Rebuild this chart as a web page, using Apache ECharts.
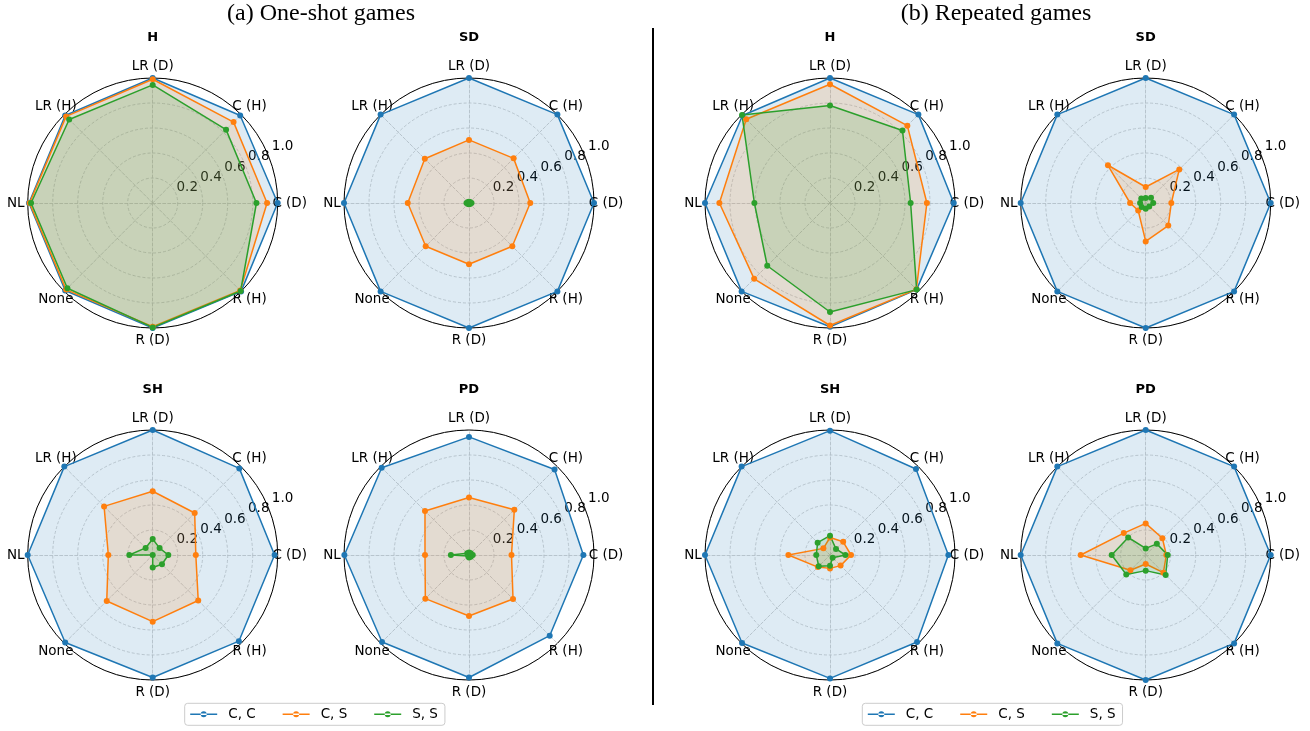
<!DOCTYPE html>
<html>
<head>
<meta charset="utf-8">
<script src="https://cdn.jsdelivr.net/npm/echarts@6/dist/echarts.min.js"></script>
<style>
html, body { margin: 0; padding: 0; background: #fff; }
#main { width: 1310px; height: 731px; }
</style>
</head>
<body>
<div id="main"></div>
<script>
// axis order as read clockwise from the top
var categories = ['LR (D)', 'C (H)', 'C (D)', 'R (H)', 'R (D)', 'None', 'NL', 'LR (H)'];
var groups = ['C, C', 'C, S', 'S, S'];
var colors = ['#1f77b4', '#ff7f0e', '#2ca02c'];

// (a) one-shot games
var oneH_cc = [1.0, 0.99, 1.0, 1.0, 1.0, 0.99, 0.99, 0.99];
var oneH_cs = [0.99, 0.915, 0.915, 0.99, 0.99, 0.98, 0.985, 0.98];
var oneH_ss = [0.945, 0.83, 0.83, 0.995, 0.995, 0.965, 0.973, 0.945];

var oneSD_cc = [1.0, 1.0, 1.0, 1.0, 1.0, 1.0, 1.0, 1.0];
var oneSD_cs = [0.505, 0.505, 0.49, 0.49, 0.49, 0.49, 0.49, 0.5];
var oneSD_ss = [0.01, 0.01, 0.02, 0.01, 0.01, 0.01, 0.02, 0.01];

var oneSH_cc = [1.0, 0.98, 0.975, 0.975, 0.98, 0.99, 1.0, 1.0];
var oneSH_cs = [0.51, 0.475, 0.345, 0.515, 0.533, 0.52, 0.355, 0.55];
var oneSH_ss = [0.128, 0.078, 0.125, 0.105, 0.1, 0.0, 0.187, 0.08];

var onePD_cc = [0.945, 0.968, 0.915, 0.913, 0.98, 0.984, 0.997, 0.988];
var onePD_cs = [0.46, 0.513, 0.34, 0.498, 0.488, 0.494, 0.352, 0.498];
var onePD_ss = [0.02, 0.02, 0.03, 0.02, 0.02, 0.01, 0.145, 0.02];

// (b) repeated games
var repH_cc = [1.0, 1.0, 0.99, 0.98, 0.99, 1.0, 1.0, 0.99];
var repH_cs = [0.95, 0.875, 0.775, 0.977, 0.98, 0.858, 0.885, 0.948];
var repH_ss = [0.78, 0.82, 0.645, 0.98, 0.872, 0.71, 0.605, 0.995];

var repSD_cc = [1.0, 1.0, 1.0, 1.0, 1.0, 1.0, 1.0, 1.0];
var repSD_cs = [0.128, 0.38, 0.205, 0.255, 0.307, 0.085, 0.125, 0.427];
var repSD_ss = [0.04, 0.06, 0.06, 0.04, 0.045, 0.045, 0.045, 0.05];

var repSH_cc = [0.995, 0.973, 0.947, 0.985, 0.987, 0.995, 1.0, 1.0];
var repSH_cs = [0.14, 0.149, 0.168, 0.12, 0.107, 0.137, 0.333, 0.075];
var repSH_ss = [0.155, 0.068, 0.123, 0.03, 0.086, 0.127, 0.11, 0.14];

var repPD_cc = [1.0, 1.0, 1.0, 1.0, 1.0, 1.0, 1.0, 1.0];
var repPD_cs = [0.253, 0.189, 0.165, 0.2, 0.072, 0.173, 0.52, 0.248];
var repPD_ss = [0.053, 0.126, 0.176, 0.226, 0.125, 0.22, 0.272, 0.198];

var panels = [
    { title: 'H',  cx: 152.7,  cy: 203, sets: [oneH_cc, oneH_cs, oneH_ss] },
    { title: 'SD', cx: 469,    cy: 203, sets: [oneSD_cc, oneSD_cs, oneSD_ss] },
    { title: 'H',  cx: 830,    cy: 203, sets: [repH_cc, repH_cs, repH_ss] },
    { title: 'SD', cx: 1145.7, cy: 203, sets: [repSD_cc, repSD_cs, repSD_ss] },
    { title: 'SH', cx: 152.7,  cy: 555, sets: [oneSH_cc, oneSH_cs, oneSH_ss] },
    { title: 'PD', cx: 469,    cy: 555, sets: [onePD_cc, onePD_cs, onePD_ss] },
    { title: 'SH', cx: 830,    cy: 555, sets: [repSH_cc, repSH_cs, repSH_ss] },
    { title: 'PD', cx: 1145.7, cy: 555, sets: [repPD_cc, repPD_cs, repPD_ss] }
];

var R = 125;
var FONT = 'DejaVu Sans';

// echarts lays radar indicators out counter-clockwise
function toEc(arr) {
    return [arr[0], arr[7], arr[6], arr[5], arr[4], arr[3], arr[2], arr[1]];
}

var indicator = toEc(categories).map(function (c) {
    return { name: c, min: 0, max: 1 };
});

var gridLine = { color: '#c6c6c6', type: [3, 2], width: 0.8 };

var titles = [
    { text: '(a) One-shot games', left: 321, top: 2, textAlign: 'center', padding: 0,
      textStyle: { fontFamily: 'Liberation Serif', fontSize: 24, fontWeight: 'normal', color: '#000' } },
    { text: '(b) Repeated games', left: 996, top: 2, textAlign: 'center', padding: 0,
      textStyle: { fontFamily: 'Liberation Serif', fontSize: 24, fontWeight: 'normal', color: '#000' } }
];
var radars = [];
var polars = [];
var angleAxes = [];
var radiusAxes = [];
var series = [];

panels.forEach(function (p, k) {
    titles.push({
        text: p.title, left: p.cx, top: p.cy - 171.5, textAlign: 'center', padding: 0,
        textStyle: { fontFamily: FONT, fontSize: 13, fontWeight: 'bold', color: '#000' }
    });
    // grid, spokes and names
    radars.push({
        center: [p.cx, p.cy], radius: R, startAngle: 90, shape: 'circle', splitNumber: 5,
        indicator: indicator, nameGap: 12,
        axisName: { color: '#000', fontSize: 13.5, fontFamily: FONT, align: 'center', verticalAlign: 'middle' },
        splitLine: { lineStyle: gridLine },
        splitArea: { show: false },
        axisLine: { lineStyle: gridLine }
    });
    // solid outer ring
    radars.push({
        center: [p.cx, p.cy], radius: R, startAngle: 90, shape: 'circle', splitNumber: 1,
        indicator: indicator,
        axisName: { show: false },
        splitLine: { lineStyle: { color: '#000', width: 1 } },
        splitArea: { show: false },
        axisLine: { show: false }
    });
    // radial tick labels along 22.5 deg
    polars.push({ center: [p.cx, p.cy], radius: [11.7, 141.6] });
    angleAxes.push({ polarIndex: k, type: 'value', min: 0, max: 360, startAngle: 23.5, show: false });
    radiusAxes.push({
        polarIndex: k, type: 'value', min: 0, max: 1, interval: 0.2,
        axisLine: { show: false }, axisTick: { show: false }, splitLine: { show: false },
        axisLabel: {
            margin: 0, align: 'center', verticalAlign: 'middle', fontSize: 13.5, color: '#000', fontFamily: FONT,
            formatter: function (v) { return v === 0 ? '' : v.toFixed(1); }
        }
    });
    series.push({
        type: 'radar',
        radarIndex: 2 * k,
        symbol: 'circle',
        symbolSize: 6,
        data: p.sets.map(function (vals, i) {
            return {
                name: groups[i],
                value: toEc(vals),
                itemStyle: { color: colors[i] },
                lineStyle: { color: colors[i], width: 1.5 },
                areaStyle: { color: colors[i], opacity: 0.15 }
            };
        })
    });
});

var legendIcon = 'path://M0,2.8 L27,2.8 L27,4.2 L0,4.2 Z M10.5,3.5 A3,3 0 1,0 16.5,3.5 A3,3 0 1,0 10.5,3.5 Z';
function makeLegend(left) {
    return {
        left: left, top: 703.3, data: groups, icon: legendIcon, selectedMode: false,
        itemWidth: 27, itemHeight: 6, itemGap: 27, padding: [4, 7, 4, 5.5],
        borderColor: '#cccccc', borderWidth: 1, borderRadius: 3, backgroundColor: '#fff',
        textStyle: { fontSize: 13.5, color: '#000', fontFamily: FONT, padding: [0, 0, 0, 6] }
    };
}

var option = {
    animation: false,
    backgroundColor: '#fff',
    title: titles,
    radar: radars,
    polar: polars,
    angleAxis: angleAxes,
    radiusAxis: radiusAxes,
    legend: [makeLegend(184.7), makeLegend(862.3)],
    graphic: [{
        type: 'line', shape: { x1: 653, y1: 28, x2: 653, y2: 705 },
        style: { stroke: '#000', lineWidth: 2 }
    }],
    series: series
};

var chart = echarts.init(document.getElementById('main'));
chart.setOption(option);
</script>
</body>
</html>
